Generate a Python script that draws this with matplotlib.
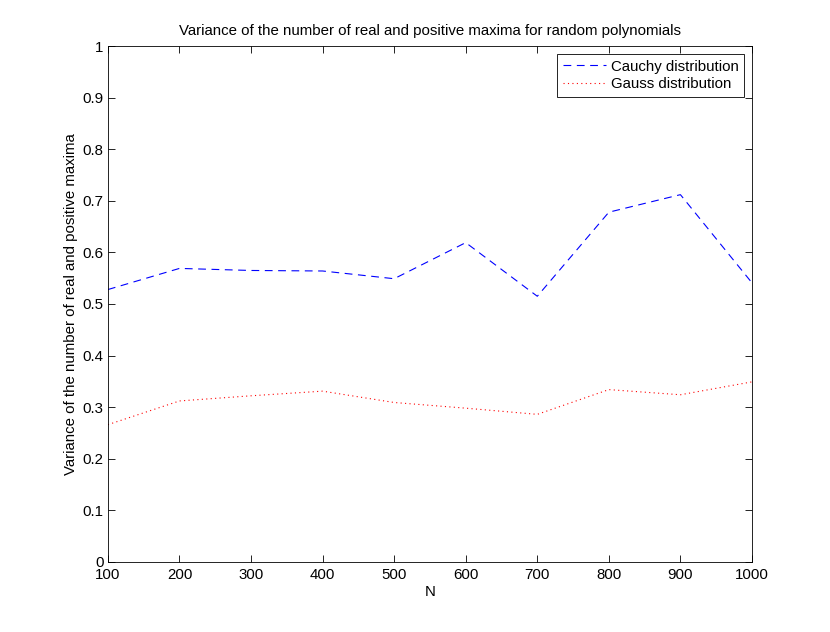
import matplotlib
matplotlib.use("Agg")
import matplotlib.pyplot as plt

N = [100, 200, 300, 400, 500, 600, 700, 800, 900, 1000]
cauchy = [0.528, 0.569, 0.565, 0.564, 0.549, 0.619, 0.515, 0.678, 0.712, 0.541]
gauss = [0.266, 0.312, 0.322, 0.331, 0.309, 0.298, 0.286, 0.334, 0.324, 0.349]
yticks = [0, 0.1, 0.2, 0.3, 0.4, 0.5, 0.6, 0.7, 0.8, 0.9, 1]

plt.rcParams['font.family'] = ['Liberation Sans', 'DejaVu Sans']
plt.rcParams['font.size'] = 10.8

fig = plt.figure(figsize=(8.3, 6.32), dpi=100)
ax = fig.add_axes([0.130, 0.111, 0.776, 0.816])

ax.plot(N, cauchy, color='blue', linestyle=(0, (7, 5)), linewidth=0.8, label='Cauchy distribution')
ax.plot(N, gauss, color='red', linestyle=(0, (1, 3)), linewidth=0.8, label='Gauss distribution')

ax.set_xlim(100, 1000)
ax.set_ylim(0, 1)
ax.set_xticks(N)
ax.set_yticks(yticks)
ax.set_yticklabels([('%g' % v) for v in yticks])
ax.tick_params(direction='in', top=True, right=True, length=5, width=0.6, labelsize=10.8)
ax.tick_params(axis='x', pad=4.5)
ax.tick_params(axis='y', pad=3)
for s in ax.spines.values():
    s.set_linewidth(0.6)

ax.set_title('Variance of the number of real and positive maxima for random polynomials',
             fontsize=10.8, pad=8)
ax.set_xlabel('N', labelpad=2)
ax.set_ylabel('Variance of the number of real and positive maxima', labelpad=3)

leg = ax.legend(loc='upper right', fancybox=False, framealpha=1, edgecolor='black',
                borderaxespad=0.55, handlelength=2.9, handletextpad=0.3,
                borderpad=0.35, labelspacing=0.25, fontsize=10.8)
leg.get_frame().set_linewidth(0.6)

fig.savefig('out.png', dpi=100)
